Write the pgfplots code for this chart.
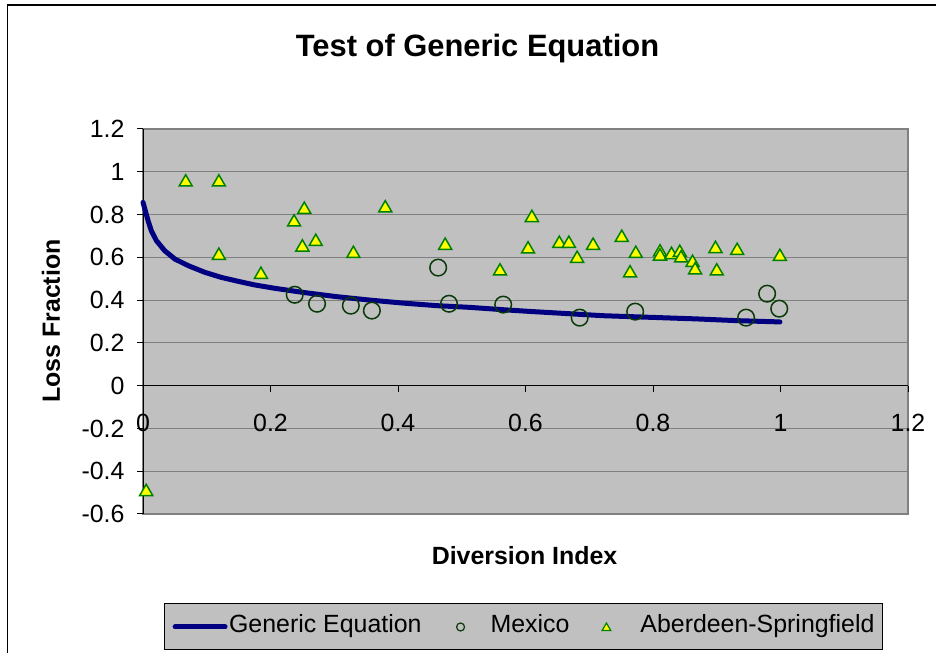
\documentclass[border=0pt]{standalone}
\usepackage{fontspec}
\setmainfont{Liberation Sans}
\usepackage{pgfplots}
\pgfplotsset{compat=1.18}
\definecolor{plotbg}{HTML}{C0C0C0}
\definecolor{navyline}{HTML}{000080}
\definecolor{circgreen}{HTML}{0A3A0A}
\definecolor{trigreen}{HTML}{008000}
\definecolor{triyellow}{HTML}{FFFF00}
\definecolor{gridgray}{HTML}{808080}
\begin{document}
\begin{tikzpicture}[x=1bp,y=1bp]
\useasboundingbox (0,0) rectangle (936,653);
\draw[black, line width=1.5bp] (7.5,-20) -- (7.5,648) -- (960,648);
\node[font=\fontsize{31}{34}\selectfont\bfseries] at (477.5,604) {Test of Generic Equation};
\begin{axis}[
  at={(143bp,139bp)}, anchor=south west, scale only axis,
  width=765bp, height=385bp,
  xmin=0, xmax=1.2, ymin=-0.6, ymax=1.2,
  axis x line=middle, axis y line=left,
  axis line style={-, black, line width=1bp},
  every inner x axis line/.append style={-},
  every outer y axis line/.append style={-},
  hide obscured x ticks=false,
  xtick={0,0.2,0.4,0.6,0.8,1,1.2},
  ytick={-0.6,-0.4,-0.2,0,0.2,0.4,0.6,0.8,1,1.2},
  tick align=outside, major tick length=6bp,
  tick style={black, line width=1bp},
  ymajorgrids, grid style={gridgray, line width=1bp},
  axis background/.style={fill=plotbg, draw=gridgray, line width=1.5bp},
  ticklabel style={font=\fontsize{25}{28}\selectfont},
  /pgf/number format/assume math mode=true,
  xticklabel style={yshift=-19bp},
  yticklabel style={xshift=-9bp},
  clip=false,
  legend style={at={(0.4974,-0.2935)}, anchor=center,
    fill=plotbg, draw=black, line width=1bp,
    inner xsep=8bp, inner ysep=12bp,
    font=\fontsize{25}{28}\selectfont,
    nodes={inner sep=0bp, text height=17bp, text depth=5bp},
    column sep=0bp},
  legend columns=3,
]
\addplot[navyline, line width=5bp, line cap=round, line join=round,
  legend image code/.code={\path[draw=none, fill=none] (0bp,0bp) -- (56bp,0bp); \draw[navyline, line width=5bp, line cap=round] (2bp,0bp) -- (52bp,0bp);}]
coordinates {
(0.000,0.857) (0.0036,0.818) (0.008,0.771) (0.013,0.725) (0.021,0.678)
(0.034,0.631) (0.050,0.592) (0.071,0.561) (0.097,0.530) (0.123,0.506)
(0.149,0.488) (0.175,0.471) (0.207,0.455) (0.251,0.436) (0.304,0.416)
(0.356,0.400) (0.408,0.386) (0.461,0.374) (0.513,0.366) (0.565,0.355)
(0.607,0.347) (0.659,0.338) (0.722,0.327) (0.801,0.319) (0.869,0.312)
(0.931,0.304) (0.999,0.298)
};
\addlegendentry{Generic Equation}
\addplot[only marks, mark=o, mark size=8.3bp, circgreen, line width=1.5bp,
  legend image code/.code={\path[draw=none, fill=none] (-39bp,0bp) -- (30bp,0bp); \draw[circgreen, line width=1.2bp] plot[mark=o, mark size=4bp] coordinates {(0bp,0bp)};}]
coordinates {
(0.238,0.425) (0.273,0.383) (0.326,0.374) (0.359,0.351) (0.463,0.552)
(0.480,0.383) (0.565,0.379) (0.685,0.318) (0.772,0.346) (0.946,0.318)
(0.979,0.430) (0.998,0.360)
};
\addlegendentry{Mexico}
\addplot[only marks, mark=triangle*, mark size=7.5bp,
  mark options={fill=triyellow, draw=trigreen, line width=1.5bp},
  legend image code/.code={\path[draw=none, fill=none] (-37bp,0bp) -- (34bp,0bp); \draw plot[mark=triangle*, mark size=5bp, mark options={fill=triyellow, draw=trigreen, line width=1.2bp}] coordinates {(0bp,-1bp)};}]
coordinates {
(0.005,-0.496) (0.067,0.951) (0.119,0.951) (0.119,0.608) (0.185,0.519)
(0.237,0.764) (0.253,0.823) (0.250,0.647) (0.271,0.673) (0.330,0.617)
(0.380,0.830) (0.474,0.655) (0.560,0.535) (0.604,0.638) (0.610,0.785)
(0.653,0.664) (0.668,0.664) (0.681,0.594) (0.706,0.655) (0.751,0.692)
(0.764,0.526) (0.773,0.617) (0.811,0.624) (0.811,0.605) (0.829,0.612)
(0.842,0.622) (0.844,0.596) (0.862,0.575) (0.866,0.540) (0.898,0.640)
(0.900,0.535) (0.932,0.631) (0.999,0.603)
};
\addlegendentry{Aberdeen-Springfield}
\end{axis}
\node[font=\fontsize{25}{28}\selectfont\bfseries] at (524.5,97) {Diversion Index};
\node[font=\fontsize{25}{28}\selectfont\bfseries, rotate=90] at (51,332) {Loss Fraction};
\end{tikzpicture}
\end{document}
